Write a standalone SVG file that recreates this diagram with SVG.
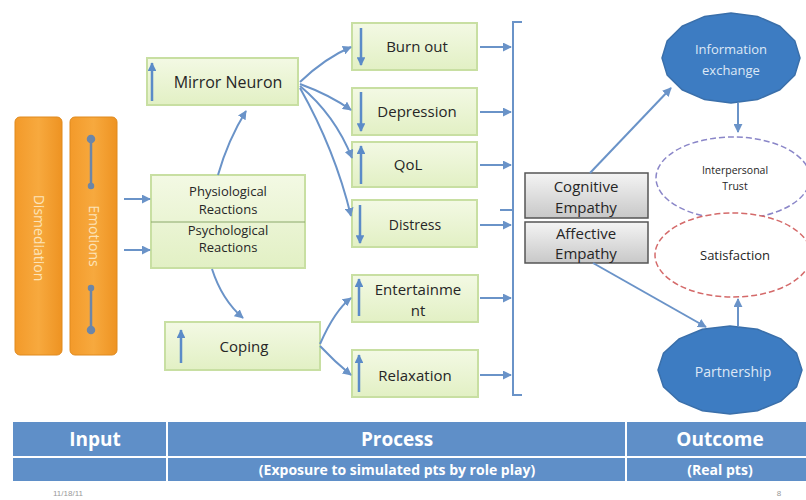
<svg xmlns="http://www.w3.org/2000/svg" width="806" height="500" viewBox="0 0 806 500">
<defs>
<linearGradient id="gOr" x1="0" y1="0" x2="1" y2="0">
<stop offset="0" stop-color="#F39A2A"/><stop offset="0.5" stop-color="#F7A93E"/><stop offset="1" stop-color="#EE9322"/>
</linearGradient>
<linearGradient id="gGr" x1="0" y1="0" x2="0" y2="1">
<stop offset="0" stop-color="#F3F9E4"/><stop offset="1" stop-color="#E2F0C4"/>
</linearGradient>
<linearGradient id="gGy" x1="0" y1="0" x2="0" y2="1">
<stop offset="0" stop-color="#F4F4F4"/><stop offset="1" stop-color="#C8C8C8"/>
</linearGradient>
<marker id="ah" viewBox="0 0 10 10" refX="9" refY="5" markerWidth="4.5" markerHeight="4.5" orient="auto">
<path d="M0,0 L10,5 L0,10 z" fill="#6A93C8"/>
</marker>
<marker id="ai" viewBox="0 0 10 10" refX="9" refY="5" markerWidth="3.5" markerHeight="3.5" orient="auto">
<path d="M0,0 L10,5 L0,10 z" fill="#5B8BC8"/>
</marker>
</defs>
<style>
.gbox{fill:url(#gGr);stroke:#C8DFA2;stroke-width:2}
.gray{fill:url(#gGy);stroke:#555;stroke-width:1.5}
.t{font-family:"Open Sans","DejaVu Sans",sans-serif;fill:#262626;text-anchor:middle}
.wt{font-family:"Open Sans","DejaVu Sans",sans-serif;fill:#fff;text-anchor:middle}
.con{fill:none;stroke:#6A93C8;stroke-width:2;marker-end:url(#ah)}
.ind{stroke:#5B8BC8;stroke-width:2.5;marker-end:url(#ai)}
.blob{fill:#3D7CC2;stroke:#3A6FAA;stroke-width:1.5}
.cell{fill:#5F8FC8}
.tb{font-family:"Open Sans","DejaVu Sans",sans-serif;font-weight:bold;fill:#fff;text-anchor:middle}
</style>

<g id="dismediation">
<rect x="15" y="117" width="47" height="238" rx="5" fill="url(#gOr)" stroke="#E08A1E"/>
<text class="wt" transform="translate(34,238) rotate(90)" font-size="14" style="fill:#FCE3B8">Dismediation</text>
</g>
<g id="emotions">
<rect x="70" y="117" width="47" height="238" rx="5" fill="url(#gOr)" stroke="#E08A1E"/>
<text class="wt" transform="translate(89,236) rotate(90)" font-size="14" style="fill:#FCE3B8">Emotions</text>
<g stroke="#6C86A8" stroke-width="2.5" fill="#6C86A8">
<line x1="91" y1="139" x2="91" y2="186"/><circle cx="91" cy="139" r="3"/><circle cx="91" cy="186" r="2"/>
<line x1="91" y1="288" x2="91" y2="330"/><circle cx="91" cy="288" r="2"/><circle cx="91" cy="330" r="3"/>
</g>
</g>

<g id="reactions">
<rect class="gbox" x="151" y="175" width="154" height="93"/>
<line x1="151" y1="222" x2="305" y2="222" stroke="#8AA86A" stroke-width="1"/>
<text class="t" x="228" y="196" font-size="13">Physiological</text>
<text class="t" x="228" y="214" font-size="13">Reactions</text>
<text class="t" x="228" y="235" font-size="13">Psychological</text>
<text class="t" x="228" y="252" font-size="13">Reactions</text>
</g>

<g id="mirror">
<rect class="gbox" x="147" y="58" width="151" height="47"/>
<line class="ind" x1="152" y1="101" x2="152" y2="63"/>
<text class="t" x="228" y="88" font-size="16">Mirror Neuron</text>
</g>

<g id="coping">
<rect class="gbox" x="165" y="322" width="155" height="48"/>
<line class="ind" x1="181" y1="363" x2="181" y2="330"/>
<text class="t" x="244" y="352" font-size="15">Coping</text>
</g>

<g id="burnout">
<rect class="gbox" x="352" y="23" width="125" height="47"/>
<line class="ind" x1="361" y1="28" x2="361" y2="65"/>
<text class="t" x="417" y="52" font-size="15">Burn out</text>
</g>
<g id="depression">
<rect class="gbox" x="352" y="88" width="125" height="47"/>
<line class="ind" x1="361" y1="92" x2="361" y2="131"/>
<text class="t" x="417" y="117" font-size="15">Depression</text>
</g>
<g id="qol">
<rect class="gbox" x="352" y="142" width="125" height="45"/>
<line class="ind" x1="361" y1="184" x2="361" y2="146"/>
<text class="t" x="408" y="170" font-size="15">QoL</text>
</g>
<g id="distress">
<rect class="gbox" x="352" y="200" width="125" height="47"/>
<line class="ind" x1="360" y1="205" x2="360" y2="243"/>
<text class="t" x="415" y="230" font-size="14">Distress</text>
</g>
<g id="entertainment">
<rect class="gbox" x="352" y="275" width="126" height="47"/>
<line class="ind" x1="359" y1="316" x2="359" y2="279"/>
<text class="t" x="418" y="295" font-size="15">Entertainme</text>
<text class="t" x="418" y="316" font-size="15">nt</text>
</g>
<g id="relaxation">
<rect class="gbox" x="352" y="350" width="126" height="47"/>
<line class="ind" x1="359" y1="392" x2="359" y2="355"/>
<text class="t" x="415" y="381" font-size="15">Relaxation</text>
</g>

<g id="bracket" fill="none" stroke="#6A93C8" stroke-width="2">
<path d="M522,22 L513,22 L513,395 L522,395"/>
<line x1="500" y1="210" x2="513" y2="210"/>
</g>

<g id="cognitive">
<rect class="gray" x="525" y="173" width="123" height="45"/>
<text class="t" x="586" y="192" font-size="15">Cognitive</text>
<text class="t" x="586" y="213" font-size="15">Empathy</text>
</g>
<g id="affective">
<rect class="gray" x="525" y="222" width="123" height="41"/>
<text class="t" x="586" y="239" font-size="15">Affective</text>
<text class="t" x="586" y="259" font-size="15">Empathy</text>
</g>

<g id="info">
<polygon class="blob" points="800,58 794.8,75.2 779.8,89.8 757.4,99.6 731,103 704.6,99.6 682.2,89.8 667.2,75.2 662,58 667.2,40.8 682.2,26.2 704.6,16.4 731,13 757.4,16.4 779.8,26.2 794.8,40.8"/>
<text class="wt" x="731" y="54" font-size="13" style="fill:#DDE8F6">Information</text>
<text class="wt" x="731" y="75" font-size="13" style="fill:#DDE8F6">exchange</text>
</g>
<g id="trust">
<ellipse cx="733" cy="178" rx="77" ry="41" fill="#fff" stroke="#8A86C8" stroke-width="1.5" stroke-dasharray="6,3"/>
<text class="t" x="735" y="174" font-size="10.5">Interpersonal</text>
<text class="t" x="735" y="190" font-size="10.5">Trust</text>
</g>
<g id="satisfaction">
<ellipse cx="733" cy="255" rx="78" ry="42" fill="#fff" stroke="#D46A6A" stroke-width="1.5" stroke-dasharray="6,3"/>
<text class="t" x="735" y="260" font-size="13">Satisfaction</text>
</g>
<g id="partnership">
<polygon class="blob" points="802,370 796.5,386.9 780.9,401.1 757.6,410.7 730,414 702.4,410.7 679.1,401.1 663.5,386.9 658,370 663.5,353.1 679.1,338.9 702.4,329.3 730,326 757.6,329.3 780.9,338.9 796.5,353.1"/>
<text class="wt" x="733" y="377" font-size="14" style="fill:#DDE8F6">Partnership</text>
</g>

<g id="connectors">
<path class="con" d="M124,199 L150,199"/>
<path class="con" d="M124,250 L150,250"/>
<path class="con" d="M218,175 Q228,140 246,111"/>
<path class="con" d="M212,269 Q222,300 243,318"/>
<path class="con" d="M300,82 Q325,58 351,47"/>
<path class="con" d="M300,84 Q330,95 351,110"/>
<path class="con" d="M300,86 Q335,115 352,158"/>
<path class="con" d="M300,88 Q335,150 351,216"/>
<path class="con" d="M320,344 Q335,310 351,298"/>
<path class="con" d="M320,346 Q335,362 351,375"/>
<path class="con" d="M480,47 L511,47"/>
<path class="con" d="M480,112 L511,112"/>
<path class="con" d="M480,165 L511,165"/>
<path class="con" d="M480,225 L511,225"/>
<path class="con" d="M480,298 L511,298"/>
<path class="con" d="M480,375 L511,375"/>
<path class="con" d="M590,173 L671,88"/>
<path class="con" d="M593,263 L706,327"/>
<path class="con" d="M738,103 L738,132"/>
<path class="con" d="M738,326 L738,299"/>
</g>

<g id="table">
<rect class="cell" x="13" y="422" width="153" height="34"/>
<rect class="cell" x="168" y="422" width="457" height="34"/>
<rect class="cell" x="627" y="422" width="179" height="34"/>
<rect class="cell" x="13" y="458" width="153" height="23"/>
<rect class="cell" x="168" y="458" width="457" height="23"/>
<rect class="cell" x="627" y="458" width="179" height="23"/>
<text class="tb" x="95" y="446" font-size="19">Input</text>
<text class="tb" x="397" y="446" font-size="19">Process</text>
<text class="tb" x="720" y="446" font-size="19">Outcome</text>
<text class="tb" x="397" y="475" font-size="14">(Exposure to simulated pts by role play)</text>
<text class="tb" x="720" y="475" font-size="14">(Real pts)</text>
</g>
<g id="footer">
<text x="68" y="496" font-family="Liberation Sans, sans-serif" font-size="8" fill="#999" text-anchor="middle">11/18/11</text>
<text x="779" y="496" font-family="Liberation Sans, sans-serif" font-size="8" fill="#999" text-anchor="middle">8</text>
</g>
</svg>
